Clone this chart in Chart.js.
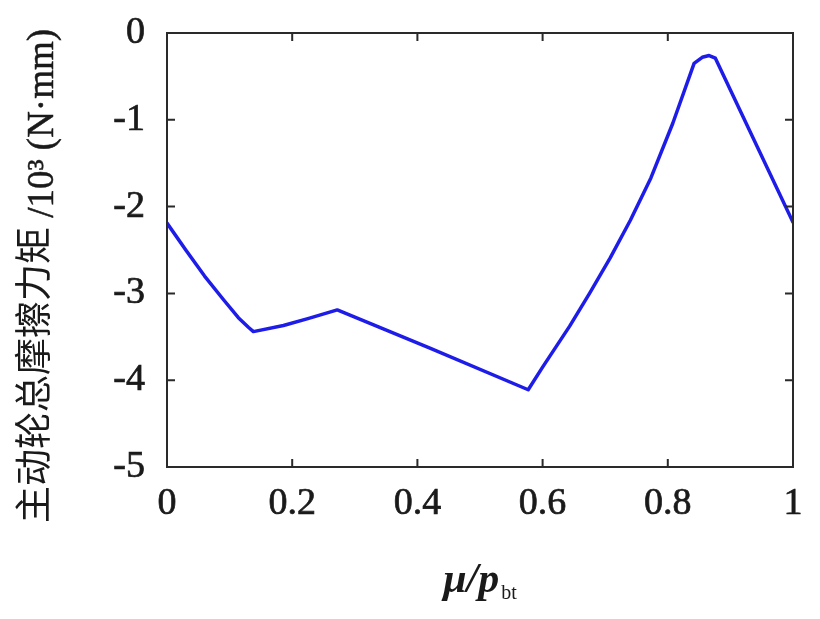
<!DOCTYPE html>
<html>
<head>
<meta charset="utf-8">
<script src="https://cdn.jsdelivr.net/npm/chart.js@4.4.1/dist/chart.umd.min.js"></script>
<style>
html,body{margin:0;padding:0;background:#fff;}
#wrap{width:820px;height:619px;position:relative;}
</style>
</head>
<body>
<div id="wrap"><canvas id="c" width="820" height="619"></canvas></div>
<script>
// ---- data ----
const muRatio = [0, 0.03, 0.06, 0.09, 0.114, 0.13, 0.138, 0.186, 0.225, 0.272, 0.42, 0.577, 0.60, 0.643, 0.675, 0.708, 0.74, 0.773, 0.808, 0.842, 0.855, 0.866, 0.876, 1.0];
const frictionTorque = [-2.19, -2.50, -2.80, -3.07, -3.28, -3.39, -3.44, -3.37, -3.29, -3.19, -3.63, -4.11, -3.85, -3.38, -3.00, -2.59, -2.16, -1.67, -1.04, -0.35, -0.28, -0.26, -0.29, -2.18];
const xTicks = [0, 0.2, 0.4, 0.6, 0.8, 1];
const yTicks = [0, -1, -2, -3, -4, -5];
const yTitleCJK = "主动轮总摩擦力矩";
const yTitleLatin = " /10³ (N·mm)";
const xTitleMain = "μ/p";
const xTitleSub = "bt";

const points = muRatio.map((x, i) => ({x: x, y: frictionTorque[i]}));

const boxPlugin = {
  id: 'boxPlugin',
  afterDraw(chart) {
    const ctx = chart.ctx;
    const a = chart.chartArea;
    const xs = chart.scales.x, ys = chart.scales.y;
    ctx.save();
    ctx.strokeStyle = '#2a2a2a';
    ctx.lineWidth = 2;
    ctx.strokeRect(a.left, a.top, a.right - a.left, a.bottom - a.top);
    const tl = 8;
    ctx.beginPath();
    xTicks.forEach(v => {
      const px = xs.getPixelForValue(v);
      if (px <= a.left + 1 || px >= a.right - 1) return;
      ctx.moveTo(px, a.bottom); ctx.lineTo(px, a.bottom - tl);
      ctx.moveTo(px, a.top); ctx.lineTo(px, a.top + tl);
    });
    yTicks.forEach(v => {
      const py = ys.getPixelForValue(v);
      if (py <= a.top + 1 || py >= a.bottom - 1) return;
      ctx.moveTo(a.left, py); ctx.lineTo(a.left + tl, py);
      ctx.moveTo(a.right, py); ctx.lineTo(a.right - tl, py);
    });
    ctx.stroke();

    // y-axis title (rotated), mixed CJK + Latin
    ctx.fillStyle = '#1a1a1a';
    ctx.strokeStyle = '#1a1a1a';
    ctx.lineWidth = 0.5;
    const fC = '37px "Noto Sans CJK SC"';
    const fL = '37px "Liberation Serif"';
    ctx.font = fC; const wC = ctx.measureText(yTitleCJK).width;
    ctx.font = fL; const wL = ctx.measureText(yTitleLatin).width;
    const total = wC + wL;
    const cy = 276;
    ctx.textAlign = 'left';
    ctx.textBaseline = 'alphabetic';
    ctx.translate(47, cy);
    ctx.rotate(-Math.PI / 2);
    ctx.font = fC; ctx.fillText(yTitleCJK, -total / 2, 0);
    ctx.setTransform(1, 0, 0, 1, 0, 0);
    ctx.translate(53, cy);
    ctx.rotate(-Math.PI / 2);
    ctx.font = fL; ctx.fillText(yTitleLatin, -total / 2 + wC, 0);
    ctx.strokeText(yTitleLatin, -total / 2 + wC, 0);
    ctx.setTransform(1, 0, 0, 1, 0, 0);

    // x-axis title with subscript
    const fM = 'italic bold 42px "Liberation Serif"';
    const fS = '20px "Liberation Serif"';
    ctx.font = fM; const wM = ctx.measureText(xTitleMain).width;
    ctx.font = fS; const wS = ctx.measureText(xTitleSub).width;
    const cx = (a.left + a.right) / 2;
    const x0 = cx - (wM + wS + 2) / 2;
    const base = 592;
    ctx.font = fM; ctx.fillText(xTitleMain, x0, base);
    ctx.font = fS; ctx.fillText(xTitleSub, x0 + wM + 2, base + 7);
    ctx.restore();
  }
};

const tickFont = { family: '"Liberation Serif"', size: 38 };

new Chart(document.getElementById('c'), {
  type: 'line',
  data: {
    datasets: [{
      data: points,
      borderColor: 'rgb(30,28,232)',
      borderWidth: 3.5,
      borderJoinStyle: 'round',
      borderCapStyle: 'round',
      pointRadius: 0,
      tension: 0,
      fill: false
    }]
  },
  options: {
    responsive: false,
    animation: false,
    events: [],
    layout: { padding: { top: 33, right: 27, left: 0, bottom: 0 } },
    plugins: { legend: { display: false }, tooltip: { enabled: false } },
    scales: {
      x: {
        type: 'linear', min: 0, max: 1,
        afterBuildTicks: s => { s.ticks = xTicks.map(v => ({value: v})); },
        afterFit: s => { s.height = 152; s.paddingLeft = 0; s.paddingRight = 0; },
        grid: { display: false, drawTicks: false },
        border: { display: false },
        ticks: { padding: 14, color: '#1a1a1a', font: tickFont,
                 textStrokeColor: '#1a1a1a', textStrokeWidth: 0.7,
                 callback: v => String(v) }
      },
      y: {
        type: 'linear', min: -5, max: 0,
        afterBuildTicks: s => { s.ticks = yTicks.map(v => ({value: v})); },
        afterFit: s => { s.width = 167; s.paddingTop = 0; s.paddingBottom = 0; },
        grid: { display: false, drawTicks: false },
        border: { display: false },
        ticks: { padding: 22, color: '#1a1a1a', font: tickFont,
                 textStrokeColor: '#1a1a1a', textStrokeWidth: 0.7,
                 callback: v => String(v) }
      }
    }
  },
  plugins: [boxPlugin]
});
</script>
</body>
</html>
